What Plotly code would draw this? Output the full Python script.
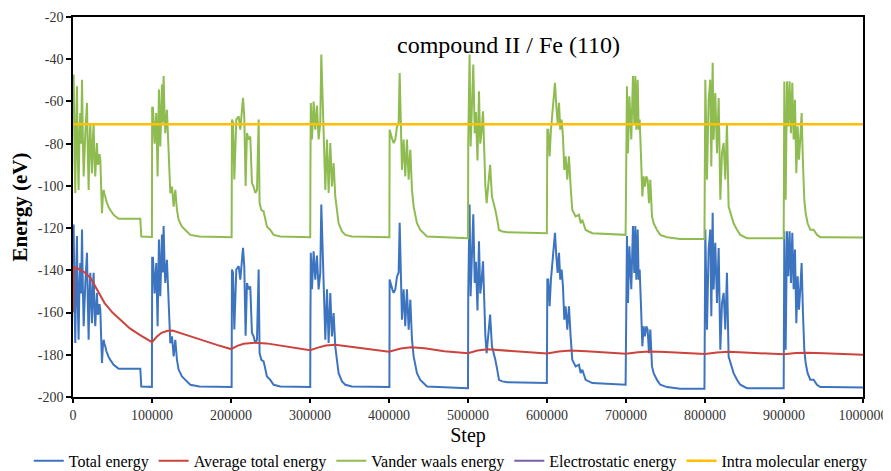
import plotly.graph_objects as go

# ---------------- data ----------------
step = [
    0, 800, 2000, 2900, 4000, 5000, 6000, 7100, 8200, 9200, 10300, 11400, 12500, 13500, 15600, 17700,
    18800, 19800, 20900, 21900, 23000, 24000, 25100, 26100, 27200, 28200, 29300, 30300, 31400, 32400,
    33500, 34600, 35600, 36700, 37800, 38800, 39800, 40900, 42000, 43000, 45000, 47200, 49000, 51400,
    54000, 57800, 70000, 85200, 86400, 99600,
    99900, 100200, 101200, 103300, 105400, 107100, 108800, 110500, 112600, 113600, 114700, 115800,
    116800, 118900, 121000, 123200, 125300, 127400, 129500, 131600, 133700, 137900, 142200, 148500,
    160000, 199800,
    200800, 201200, 202500, 204200, 206700, 209700, 211800, 213900, 215200, 216800, 218500, 220200,
    222300, 224400, 226500, 228600, 230800, 232900, 235000, 236200, 238400, 241300, 245500, 249700,
    254000, 262400, 300000,
    300300, 300500, 301000, 302500, 304600, 306700, 308800, 310900, 313000, 314300, 316000, 317700,
    319400, 321500, 323600, 325700, 327800, 329900, 332000, 334100, 336200, 340500, 344700, 353100,
    400000,
    400500, 400800, 402500, 404200, 405900, 408000, 410100, 412200, 413500, 415200, 416400, 418500,
    420600, 422700, 424900, 427000, 429100, 431200, 435400, 439600, 448100, 499500,
    500000, 500300, 502000, 503300, 505000, 506700, 508500, 510000, 512000, 513900, 515500, 517000,
    519000, 520500, 522000, 523600, 525700, 528000, 530300, 532400, 534600, 537000, 539200, 543400,
    550000, 599800,
    600400, 601600, 603300, 605000, 606700, 608800, 610100, 611800, 613500, 615200, 616800, 618500,
    620200, 621900, 623600, 625700, 627800, 629900, 632000, 636200, 640500, 642600, 644700, 648900,
    657300, 699500,
    700300, 701200, 702500, 704300, 706700, 708800, 710500, 711800, 713100, 714800, 716000, 717300,
    719000, 720700, 722300, 724000, 725700, 727400, 729100, 730800, 732900, 735000, 739200, 743400,
    751900, 768700, 799300,
    800400, 802500, 804600, 806700, 808000, 809700, 810900, 813000, 815200, 817300, 819400, 821500,
    823600, 825700, 827800, 829900, 832000, 836200, 840500, 844700, 853100, 899600,
    900400, 902100, 903800, 905400, 907100, 908800, 910500, 912200, 913900, 915600, 917300, 918900,
    920600, 922300, 924000, 925700, 927400, 929900, 933300, 937500, 941700, 946000, 954400, 1000000,
]

vdw_energy = [
    -50, -47.3, -88, -103.4, -70, -52.8, -85, -101.9, -75, -65.5, -80, -49.7, -78, -95.5, -75, -60.7,
    -85, -101.9, -80, -70.2, -85, -94, -78, -70.2, -88, -95.5, -86, -79.7, -90, -89.2,
    -85, -87.6, -100, -112.9, -105, -101.9, -104, -105, -107, -108.2, -110, -111.4, -112.5, -113.7,
    -114.5, -115.6, -115.6, -115.6, -124.0, -124.2,
    -124.2, -63, -63, -80, -65.5, -95.5, -54.4, -81.3, -52, -70, -48, -65,
    -75, -64, -86, -103.5, -100.3, -109.8, -101.9, -111.4, -116, -119.3, -120.9, -123.2,
    -124, -124.3,
    -124.3, -68.6, -70, -97, -68.6, -67, -73.4, -64, -58.3, -67, -100, -75,
    -78, -76.6, -98.7, -100.3, -103.4, -101.9, -68.6, -108.2, -111.4, -112.1, -119.3, -120.9,
    -123.2, -124, -124.3,
    -124.3, -95.5, -60.7, -78, -60, -73.4, -62, -78, -70.2, -37.8, -57.6, -73.4,
    -101.9, -78, -103.4, -79.7, -100.3, -89.2, -105, -111.4, -117.7, -121.6, -123.2, -124,
    -124.3,
    -124.3, -73.4, -76.6, -78, -79.7, -78, -72, -70, -46.5, -72, -92.4, -78,
    -95.5, -78, -97.1, -82.9, -101.9, -109.8, -117.7, -120.9, -124, -124.8,
    -124.8, -80, -37.8, -81.3, -60, -42.5, -75, -65, -88, -55.2, -80, -75,
    -64.7, -85, -100.3, -108.2, -100.3, -90, -105, -108, -111.4, -116, -120.9, -121.6,
    -122, -122.4,
    -73.4, -73.4, -86, -73.4, -65.5, -57.6, -51.2, -62.3, -70.2, -60.7, -73.4, -68.6,
    -76.6, -92.4, -86, -97.1, -86, -100.3, -111.4, -114.5, -113.7, -117.7, -116.1, -120.9,
    -122.4, -123.2,
    -60, -52.8, -84.5, -57.6, -78, -48, -70.2, -48, -73.4, -49.7, -73.4, -68.6,
    -86, -105, -95.5, -100.3, -95.5, -97.1, -108.2, -97.1, -114.5, -117.7, -120.9, -123.2,
    -124.3, -125.1, -125.1,
    -49.7, -97.1, -59.2, -49.7, -90.8, -41.7, -78.1, -56, -84.5, -58.4, -106.6, -84.5,
    -79.7, -97, -70.2, -109.8, -112.9, -117.7, -120.8, -123.2, -124.8, -124.8,
    -50.5, -106.6, -50.5, -71.8, -50.5, -75, -51.2, -78, -59.2, -94, -71.8, -87.6,
    -78, -65.5, -89.2, -106.6, -112.9, -117.7, -120.8, -120.8, -123.2, -124.3, -124.3, -124.5,
]

total_energy = [
    -121, -118.3, -159, -174.4, -141, -123.8, -156, -172.9, -146, -136.5, -151, -120.7, -149, -166.5, -146, -131.7,
    -156, -172.9, -151, -141.2, -156, -165, -149, -141.2, -159, -166.5, -157, -150.7, -161, -160.2,
    -156, -158.6, -171, -183.9, -176, -172.9, -175, -176, -178, -179.2, -181, -182.4, -183.5, -184.7,
    -185.5, -186.6, -186.6, -186.6, -195.0, -195.2,
    -195.2, -134, -134, -151, -136.5, -166.5, -125.4, -152.3, -123, -141, -119, -136,
    -146, -135, -157, -174.5, -171.3, -180.8, -172.9, -182.4, -187, -190.3, -191.9, -194.2,
    -195, -195.3,
    -195.3, -139.6, -141, -168, -139.6, -138, -144.4, -135, -129.3, -138, -171, -146,
    -149, -147.6, -169.7, -171.3, -174.4, -172.9, -139.6, -179.2, -182.4, -183.1, -190.3, -191.9,
    -194.2, -195, -195.3,
    -195.3, -166.5, -131.7, -149, -131, -144.4, -133, -149, -141.2, -108.8, -128.6, -144.4,
    -172.9, -149, -174.4, -150.7, -171.3, -160.2, -176, -182.4, -188.7, -192.6, -194.2, -195,
    -195.3,
    -195.3, -144.4, -147.6, -149, -150.7, -149, -143, -141, -117.5, -143, -163.4, -149,
    -166.5, -149, -168.1, -153.9, -172.9, -180.8, -188.7, -191.9, -195, -195.8,
    -195.8, -151, -108.8, -152.3, -131, -113.5, -146, -136, -159, -126.2, -151, -146,
    -135.7, -156, -171.3, -179.2, -171.3, -161, -176, -179, -182.4, -187, -191.9, -192.6,
    -193, -193.4,
    -144.4, -144.4, -157, -144.4, -136.5, -128.6, -122.2, -133.3, -141.2, -131.7, -144.4, -139.6,
    -147.6, -163.4, -157, -168.1, -157, -171.3, -182.4, -185.5, -184.7, -188.7, -187.1, -191.9,
    -193.4, -194.2,
    -131, -123.8, -155.5, -128.6, -149, -119, -141.2, -119, -144.4, -120.7, -144.4, -139.6,
    -157, -176, -166.5, -171.3, -166.5, -168.1, -179.2, -168.1, -185.5, -188.7, -191.9, -194.2,
    -195.3, -196.1, -196.1,
    -120.7, -168.1, -130.2, -120.7, -161.8, -112.7, -149.1, -127, -155.5, -129.4, -177.6, -155.5,
    -150.7, -168, -141.2, -180.8, -183.9, -188.7, -191.8, -194.2, -195.8, -195.8,
    -121.5, -177.6, -121.5, -142.8, -121.5, -146, -122.2, -149, -130.2, -165, -142.8, -158.6,
    -149, -136.5, -160.2, -177.6, -183.9, -188.7, -191.8, -191.8, -194.2, -195.3, -195.3, -195.5,
]

avg_step = [
    0, 1000, 8000, 15000, 22000, 30000, 40000, 50000, 60000, 72000, 85000, 100000,
    106000, 112000, 120000, 126000, 145000, 162000, 182000, 200000,
    208000, 216000, 230000, 245000, 260000, 280000, 300000,
    310000, 320000, 332000, 350000, 370000, 400000,
    415000, 428000, 445000, 470000, 500000,
    512000, 525000, 545000, 575000, 600000,
    615000, 630000, 650000, 675000, 700000,
    715000, 730000, 750000, 775000, 800000,
    815000, 830000, 850000, 875000, 900000,
    915000, 930000, 950000, 975000, 1000000,
]
avg_total_energy = [
    -160, -138.5, -139.5, -141, -143.5, -149, -155.5, -160, -163.6, -167.5, -170.7, -174,
    -171.5, -169.6, -168.6, -168.5, -170.8, -173, -175.3, -177.3,
    -175.8, -174.8, -174.3, -174.6, -175.4, -176.6, -177.8,
    -176.6, -175.6, -175.3, -176.2, -177.2, -178.6,
    -177, -176.4, -176.9, -178.3, -179.3,
    -178, -177.4, -177.9, -178.8, -179.4,
    -178.5, -178, -178.3, -179, -179.5,
    -178.8, -178.4, -178.7, -179.2, -179.6,
    -178.9, -178.6, -178.9, -179.4, -179.8,
    -179.2, -179, -179.3, -179.7, -180,
]

flat_step = [0, 1000000]
electrostatic_energy = [0, 0]
intra_molecular_energy = [-70.8, -70.8]

x_tick_vals = [0, 100000, 200000, 300000, 400000, 500000, 600000, 700000, 800000, 900000, 1000000]
x_tick_text = ["0", "100000", "200000", "300000", "400000", "500000", "600000", "700000",
               "800000", "900000", "1000000"]
y_tick_vals = [-200, -180, -160, -140, -120, -100, -80, -60, -40, -20]
y_tick_text = ["-200", "-180", "-160", "-140", "-120", "-100", "-80", "-60", "-40", "-20"]

# ---------------- figure ----------------
SERIF = "Liberation Serif, Times New Roman, serif"

fig = go.Figure()
fig.add_trace(go.Scatter(x=step, y=total_energy, mode="lines", name="Total energy",
                         line=dict(color="#3D74C0", width=2)))
fig.add_trace(go.Scatter(x=avg_step, y=avg_total_energy, mode="lines", name="Average total energy",
                         line=dict(color="#CC433D", width=2)))
fig.add_trace(go.Scatter(x=step, y=vdw_energy, mode="lines", name="Vander waals energy",
                         line=dict(color="#8FBC50", width=2)))
fig.add_trace(go.Scatter(x=flat_step, y=electrostatic_energy, mode="lines", name="Electrostatic energy",
                         line=dict(color="#7E5FA6", width=2)))
fig.add_trace(go.Scatter(x=flat_step, y=intra_molecular_energy, mode="lines", name="Intra molecular energy",
                         line=dict(color="#FFC000", width=2.5)))

# The page body adds an 8px margin, so the figure is sized to fill the rest of the window.
fig.update_layout(
    width=883, height=463,
    margin=dict(l=65, r=28, t=9, b=74, autoexpand=False),
    paper_bgcolor="white", plot_bgcolor="white",
    font=dict(family=SERIF, color="#000000"),
    showlegend=True,
    legend=dict(orientation="h", x=-0.056, xanchor="left", y=-0.168, yanchor="middle",
                font=dict(family=SERIF, size=16, color="#000000"),
                itemwidth=30, tracegroupgap=0, bgcolor="rgba(0,0,0,0)"),
    annotations=[dict(text="compound II / Fe (110)", x=0.551, y=0.925, xref="paper", yref="paper",
                      xanchor="center", yanchor="middle", showarrow=False,
                      font=dict(family=SERIF, size=24, color="#000000"))],
)

fig.update_xaxes(
    range=[0, 1000000], tickmode="array", tickvals=x_tick_vals, ticktext=x_tick_text,
    showline=True, linecolor="#000000", linewidth=1.5, mirror=True,
    ticks="outside", ticklen=4, tickcolor="#000000", tickwidth=1.5,
    showgrid=False, zeroline=False, automargin=False,
    tickfont=dict(family=SERIF, size=14, color="#333333"),
    title=dict(text="Step", font=dict(family=SERIF, size=20, color="#000000"), standoff=6),
)
fig.update_yaxes(
    range=[-200, -20], tickmode="array", tickvals=y_tick_vals, ticktext=y_tick_text,
    showline=True, linecolor="#000000", linewidth=1.5, mirror=True,
    ticks="outside", ticklen=5, tickcolor="#000000", tickwidth=1.5,
    showgrid=False, zeroline=False, automargin=False,
    tickfont=dict(family=SERIF, size=14, color="#333333"),
    title=dict(text="<b>Energy (eV)</b>", font=dict(family=SERIF, size=21, color="#000000"), standoff=6),
)

fig.write_html("out.html")
